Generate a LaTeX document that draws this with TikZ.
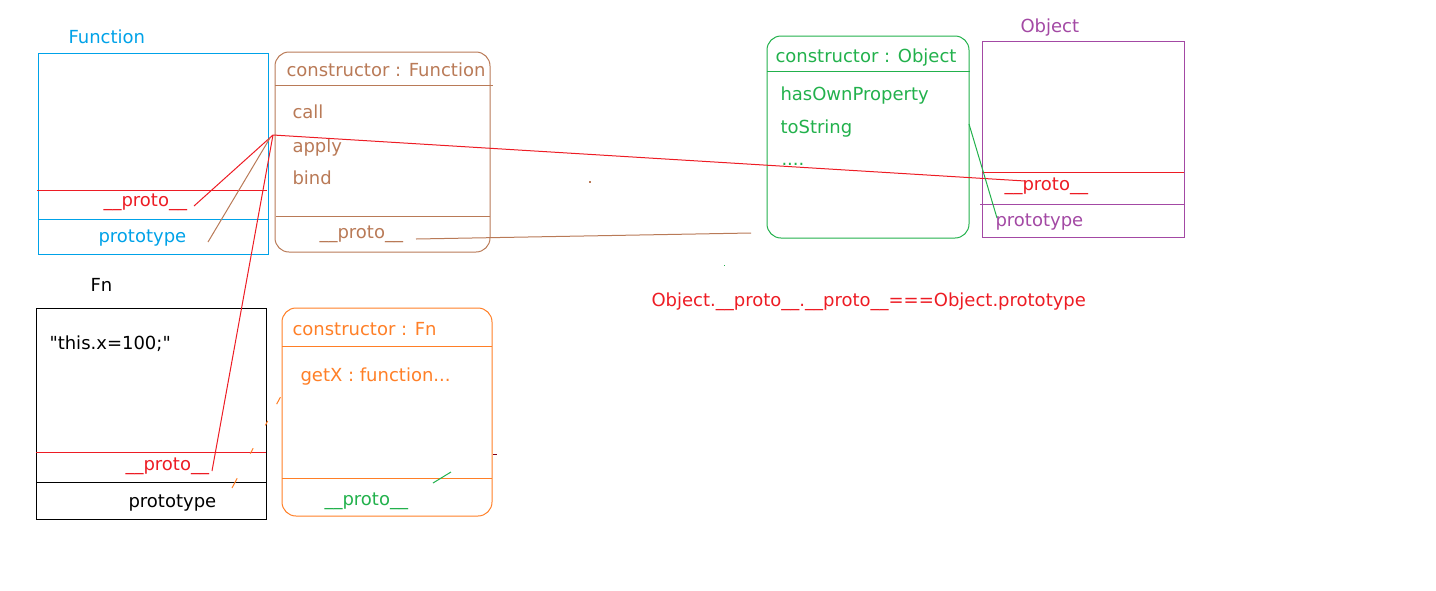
\documentclass[tikz,border=0pt]{standalone}
\usepackage{fontspec}
\setmainfont{DejaVu Sans}[Ligatures=TeXOff]
\definecolor{pblue}{HTML}{00A2E8}
\definecolor{pred}{HTML}{ED1C24}
\definecolor{pbrown}{HTML}{B97A57}
\definecolor{porange}{HTML}{FF7F27}
\definecolor{pgreen}{HTML}{22B14C}
\definecolor{ppurple}{HTML}{A349A4}
\definecolor{pdark}{HTML}{880015}

\begin{document}
\begin{tikzpicture}[x=1pt, y=-1pt, line width=1pt]
    \tikzstyle{every node}=[font=\fontsize{18}{20}\selectfont, inner sep=0pt, anchor=base west]
    \tikzstyle{round box}=[rounded corners=14pt]

    \useasboundingbox (0,0) rectangle (1436,590);

    % Function
    \draw[pblue] (38,53) rectangle (268,254);
    \draw[pred] (37,190) -- (267,190);
    \draw[pblue] (38,219) -- (268,219);
    \node(f_name) at (68,43) [pblue] {Function};
    \node(f_proto) at (103,206) [pred] {\_\_proto\_\_};
    \node(f_prototype) at (98,242) [pblue] {prototype};

    % Function.prototype
    \draw[pbrown, round box] (275,52) rectangle (490,252);
    \draw[pbrown] (275,85) -- (493,85);
    \draw[pbrown] (276,216) -- (490,216);
    \node(fp_ctor) at (286,76) [pbrown] {constructor : Function};
    \node(fp_call) at (292,118) [pbrown] {call};
    \node(fp_apply) at (292,152) [pbrown] {apply};
    \node(fp_bind) at (292,184) [pbrown] {bind};
    \node(fp_proto) at (319,238) [pbrown] {\_\_proto\_\_};

    % Fn
    \draw (36,308) rectangle (266,519);
    \draw[pred] (36,452) -- (266,452);
    \draw (36,482) -- (266,482);
    \node(fn_name) at (90,291) {Fn};
    \node(fn_body) at (49,349) {"this.x=100;"};
    \node(fn_proto) at (125,470) [pred] {\_\_proto\_\_};
    \node(fn_prototype) at (128,507) {prototype};

    % Fn.prototype
    \draw[porange, round box] (282,308) rectangle (492,516);
    \draw[porange] (282,346) -- (492,346);
    \draw[porange] (282,478) -- (492,478);
    \node(fnp_ctor) at (292,335) [porange] {constructor : Fn};
    \node(fnp_getx) at (300,381) [porange] {getX : function...};
    \node(fnp_proto) at (324,505) [pgreen] {\_\_proto\_\_};

    % Object.prototype
    \draw[pgreen, round box] (767,36) rectangle (969,238);
    \draw[pgreen] (767,71) -- (970,71);
    \node(op_ctor) at (775,62) [pgreen] {constructor : Object};
    \node(op_has) at (780,100) [pgreen] {hasOwnProperty};
    \node(op_tostr) at (780,133) [pgreen] {toString};
    \node(op_more) at (781,165) [pgreen] {....};

    % Object
    \draw[ppurple] (982,41) rectangle (1184,237);
    \draw[pred] (982,172) -- (1184,172);
    \draw[ppurple] (980,204) -- (1184,204);
    \node(o_name) at (1020,32) [ppurple] {Object};
    \node(o_proto) at (1004,190) [pred] {\_\_proto\_\_};
    \node(o_prototype) at (995,226) [ppurple] {prototype};

    \node(note) at (651,306) [pred] {Object.\_\_proto\_\_.\_\_proto\_\_===Object.prototype};

    % links
    \coordinate(fp_in) at (273,135);
    \coordinate(fp_in2) at (270,138);
    \coordinate(f_proto_e) at (194,206);
    \coordinate(f_prototype_e) at (208,242);
    \coordinate(fn_proto_e) at (212,471);
    \coordinate(fn_prototype_e) at (232,488);
    \coordinate(fnp_in) at (281,396);
    \coordinate(fp_proto_e) at (416,239);
    \coordinate(op_in) at (751,233);
    \coordinate(op_out) at (969,124);
    \coordinate(o_proto_e) at (1025,181);
    \coordinate(o_prototype_e) at (997,218);
    \coordinate(fnp_proto_a) at (433,483);
    \coordinate(fnp_proto_b) at (451,472);

    \draw[pred] (f_proto_e) -- (fp_in);
    \draw[pbrown] (f_prototype_e) -- (fp_in2);
    \draw[pred] (fn_proto_e) -- (fp_in);
    \draw[pred] (fp_in) -- (o_proto_e);
    \draw[pbrown] (fp_proto_e) -- (op_in);
    \draw[pgreen] (op_out) -- (o_prototype_e);
    \draw[porange, dash pattern=on 11pt off 28pt on 6pt off 26pt on 5pt off 19pt on 8pt off 10pt] (fn_prototype_e) -- (fnp_in);
    \draw[pgreen] (fnp_proto_a) -- (fnp_proto_b);

    \fill[pbrown] (589,181) rectangle (591,183);
    \fill[pgreen] (724,265) rectangle (725,266);
    \draw[pdark] (493,454) -- (497,454);

\end{tikzpicture}
\end{document}
